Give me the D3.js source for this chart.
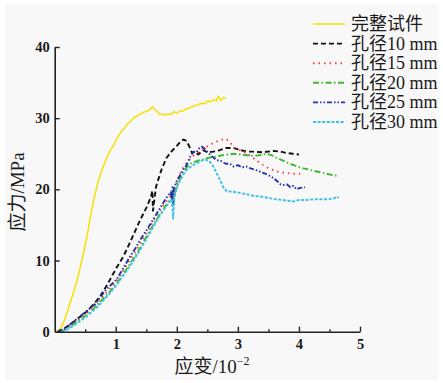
<!DOCTYPE html>
<html>
<head>
<meta charset="utf-8">
<script src="https://cdn.jsdelivr.net/npm/d3@7/dist/d3.min.js"></script>
<style>
  html, body { margin: 0; padding: 0; background: #ffffff; }
  svg { display: block; }
  text { font-family: "Liberation Serif", "Times New Roman", "Noto Sans CJK SC", serif; fill: #1a1a1a; }
</style>
</head>
<body>
<svg id="chart" width="443" height="383"></svg>
<script>
// Stress–strain curves: [strain (10^-2), stress (MPa)]
const intact = [[0,0],[0.05,0.1],[0.1,0.5],[0.15,1.4],[0.2,2.6],[0.25,4.0],[0.3,5.3],[0.35,6.7],[0.4,8.4],[0.45,10.2],[0.5,12.2],[0.55,14.4],[0.6,16.9],[0.65,18.9],[0.7,20.7],[0.75,22.1],[0.8,23.3],[0.85,24.4],[0.9,25.3],[0.95,26.0],[1.0,26.8],[1.05,27.6],[1.1,28.2],[1.15,28.7],[1.2,29.3],[1.25,29.6],[1.3,30.1],[1.35,30.3],[1.4,30.6],[1.45,30.8],[1.5,31.0],[1.55,31.1],[1.6,31.6],[1.63,31.3],[1.67,31.0],[1.72,30.5],[1.76,30.6],[1.8,30.4],[1.85,30.6],[1.9,30.5],[1.95,30.9],[2.0,30.7],[2.05,31.0],[2.1,31.0],[2.15,31.3],[2.2,31.4],[2.25,31.6],[2.3,31.8],[2.35,31.9],[2.4,32.1],[2.45,32.0],[2.5,32.4],[2.55,32.3],[2.6,32.6],[2.65,32.4],[2.68,33.1],[2.72,32.5],[2.76,32.9],[2.8,32.8]];
const hole10 = [[0.05,0],[0.12,0.3],[0.2,0.7],[0.3,1.3],[0.4,2.0],[0.52,2.8],[0.63,3.8],[0.74,4.9],[0.84,6.3],[0.93,7.7],[1.02,9.1],[1.12,10.5],[1.22,12.3],[1.31,14.0],[1.4,15.7],[1.5,17.4],[1.57,18.8],[1.6,19.8],[1.61,17.0],[1.63,18.4],[1.66,20.4],[1.75,22.8],[1.83,24.4],[1.92,25.4],[2.0,26.1],[2.06,26.7],[2.11,27.0],[2.16,26.8],[2.2,26.1],[2.25,25.1],[2.3,25.3],[2.35,24.9],[2.43,25.5],[2.5,25.2],[2.6,25.3],[2.7,25.5],[2.8,25.8],[2.93,25.8],[3.05,25.5],[3.15,25.3],[3.25,25.3],[3.4,25.2],[3.58,25.4],[3.7,25.3],[3.8,25.1],[3.9,25.0],[4.0,24.9]];
const hole15 = [[0.08,0],[0.2,0.6],[0.3,1.2],[0.4,1.8],[0.5,2.4],[0.6,3.2],[0.7,4.1],[0.8,5.1],[0.9,6.0],[1.0,7.0],[1.1,8.3],[1.2,9.6],[1.3,11.0],[1.4,12.3],[1.5,13.8],[1.6,15.3],[1.7,16.8],[1.8,18.0],[1.88,18.8],[1.92,19.5],[1.93,17.8],[1.95,19.0],[2.0,21.0],[2.05,22.2],[2.1,23.0],[2.16,23.7],[2.22,24.3],[2.28,24.8],[2.33,25.1],[2.41,25.6],[2.49,26.0],[2.57,26.4],[2.65,26.7],[2.72,26.9],[2.78,27.1],[2.82,27.0],[2.87,26.6],[2.92,26.0],[3.0,25.6],[3.07,25.4],[3.14,25.1],[3.22,24.6],[3.3,24.1],[3.36,23.7],[3.45,23.2],[3.52,22.9],[3.58,22.7],[3.68,22.4],[3.8,22.3],[3.9,22.2],[4.02,22.2]];
const hole20 = [[0.1,0],[0.2,0.4],[0.3,1.0],[0.4,1.6],[0.5,2.2],[0.6,2.9],[0.7,3.8],[0.8,4.7],[0.9,5.6],[1.0,6.6],[1.1,7.8],[1.2,9.1],[1.3,10.4],[1.4,11.8],[1.5,13.3],[1.6,14.8],[1.7,16.2],[1.8,17.5],[1.88,18.4],[1.92,18.9],[1.94,17.6],[1.96,19.2],[2.0,20.4],[2.05,21.5],[2.1,22.3],[2.16,23.1],[2.22,23.6],[2.3,23.9],[2.38,24.1],[2.46,24.3],[2.55,24.5],[2.65,24.6],[2.75,24.8],[2.85,24.9],[2.93,25.0],[3.05,24.9],[3.15,24.8],[3.25,24.7],[3.35,24.8],[3.47,25.0],[3.55,24.8],[3.64,24.4],[3.75,24.0],[3.85,23.6],[3.95,23.3],[4.05,23.0],[4.15,22.8],[4.24,22.6],[4.35,22.4],[4.45,22.2],[4.55,22.0],[4.62,21.9]];
const hole25 = [[0.05,0],[0.15,0.4],[0.25,1.0],[0.35,1.7],[0.45,2.4],[0.55,3.1],[0.66,3.9],[0.75,4.9],[0.85,6.0],[0.95,6.8],[1.01,7.3],[1.1,8.6],[1.23,10.5],[1.32,11.7],[1.4,12.9],[1.5,14.2],[1.6,15.6],[1.7,17.0],[1.8,18.4],[1.86,19.2],[1.9,19.6],[1.92,18.2],[1.93,20.3],[1.94,17.8],[1.95,20.0],[2.0,21.2],[2.05,21.9],[2.1,22.7],[2.16,23.4],[2.22,24.6],[2.27,25.3],[2.32,25.2],[2.36,25.7],[2.41,26.0],[2.46,25.7],[2.52,25.1],[2.58,24.6],[2.65,24.1],[2.72,24.0],[2.8,23.6],[2.87,23.6],[2.93,23.2],[3.0,23.4],[3.07,23.1],[3.14,23.2],[3.22,22.9],[3.3,22.7],[3.36,22.5],[3.45,22.2],[3.52,21.9],[3.58,21.6],[3.65,21.1],[3.7,20.7],[3.74,20.6],[3.8,20.7],[3.86,20.3],[3.91,20.5],[3.96,20.0],[4.02,20.2],[4.1,20.3]];
const hole30 = [[0.12,0],[0.2,0.3],[0.3,0.8],[0.4,1.4],[0.5,2.0],[0.6,2.7],[0.7,3.5],[0.8,4.4],[0.9,5.4],[1.0,6.4],[1.1,7.6],[1.2,8.8],[1.3,10.1],[1.4,11.5],[1.5,13.0],[1.6,14.5],[1.7,16.0],[1.8,17.3],[1.88,18.2],[1.92,18.6],[1.94,15.9],[1.96,18.8],[2.0,20.2],[2.05,21.2],[2.1,22.0],[2.15,22.6],[2.2,23.0],[2.3,23.6],[2.4,24.0],[2.45,24.2],[2.49,24.1],[2.55,23.8],[2.6,23.2],[2.65,22.3],[2.71,21.3],[2.76,20.3],[2.82,19.7],[2.9,19.7],[3.03,19.5],[3.15,19.3],[3.25,19.1],[3.36,19.0],[3.5,18.8],[3.62,18.6],[3.74,18.5],[3.82,18.4],[3.91,18.3],[4.0,18.5],[4.1,18.5],[4.24,18.6],[4.35,18.6],[4.45,18.6],[4.56,18.7],[4.62,19.0],[4.65,18.8]];

const seriesNames = ["完整试件", "孔径10 mm", "孔径15 mm", "孔径20 mm", "孔径25 mm", "孔径30 mm"];
const seriesData = [intact, hole10, hole15, hole20, hole25, hole30];
const seriesColors = ["#f7e000", "#111111", "#ff3b3b", "#3cba2c", "#2434a8", "#3cc0ea"];
const seriesDash = [null, "5,3", "1.5,4", "6,2.5,1.5,2.5", "5,2,1.5,2,1.5,2", "3,1.6"];

const xTicks = [1, 2, 3, 4, 5];
const xMinorTicks = [0.5, 1.5, 2.5, 3.5, 4.5];
const yTicks = [0, 10, 20, 30, 40];

const svg = d3.select("#chart");

// Page panel
svg.append("rect").attr("x", 5).attr("y", 4).attr("width", 433).attr("height", 376).attr("fill", "#f8f8f8");

const x = d3.scaleLinear().domain([0, 5]).range([54.7, 360]);
const y = d3.scaleLinear().domain([0, 40]).range([331.7, 47]);

const line = d3.line().x(d => x(d[0])).y(d => y(d[1]));

// Curves
const curves = svg.append("g");
seriesData.forEach((data, i) => {
  curves.append("path")
    .datum(data)
    .attr("d", line)
    .attr("fill", "none")
    .attr("stroke", seriesColors[i])
    .attr("stroke-width", i === 0 ? 1.5 : 1.9)
    .attr("stroke-dasharray", seriesDash[i])
    .attr("stroke-linejoin", "round");
});

// Axes with inward ticks
const axisColor = "#222";
const xAxis = svg.append("g").attr("transform", `translate(0,${y(0)})`)
  .call(d3.axisBottom(x).tickValues(xTicks).tickSizeInner(-5).tickSizeOuter(0).tickPadding(7).tickFormat(d3.format("d")));
const xMinor = svg.append("g").attr("transform", `translate(0,${y(0)})`)
  .call(d3.axisBottom(x).tickValues(xMinorTicks).tickSizeInner(-2.5).tickSizeOuter(0).tickFormat(""));
xMinor.select(".domain").remove();
const yAxis = svg.append("g").attr("transform", `translate(${x(0)},0)`)
  .call(d3.axisLeft(y).tickValues(yTicks).tickSizeInner(-5).tickSizeOuter(0).tickPadding(5).tickFormat(d3.format("d")));

[xAxis, xMinor, yAxis].forEach(g => {
  g.selectAll(".domain").attr("stroke", axisColor).attr("stroke-width", 1.6);
  g.selectAll(".tick line").attr("stroke", axisColor).attr("stroke-width", 1.4);
  g.selectAll(".tick text")
    .attr("font-family", "'Liberation Serif', 'Times New Roman', serif")
    .attr("font-weight", "bold")
    .attr("font-size", 14.5)
    .attr("fill", "#1a1a1a");
});
yAxis.selectAll(".tick").filter(d => d === 0).select("line").remove();

// Axis titles
svg.append("text")
  .attr("transform", "translate(24,192) rotate(-90)")
  .attr("text-anchor", "middle")
  .attr("font-size", 19)
  .text("应力/MPa");

const xt = svg.append("text")
  .attr("x", 212).attr("y", 373)
  .attr("text-anchor", "middle")
  .attr("font-size", 19);
xt.append("tspan").text("应变/10");
xt.append("tspan").attr("font-size", 12).attr("dy", -8).text("−2");

// Legend
const legend = svg.append("g");
seriesNames.forEach((name, i) => {
  const ly = 24 + i * 19.6;
  legend.append("line")
    .attr("x1", 313).attr("x2", 345).attr("y1", ly).attr("y2", ly)
    .attr("stroke", seriesColors[i])
    .attr("stroke-width", i === 0 ? 1.5 : 1.9)
    .attr("stroke-dasharray", seriesDash[i]);
  legend.append("text")
    .attr("x", 351).attr("y", ly + 6)
    .attr("font-size", 18)
    .text(name);
});
</script>
</body>
</html>
